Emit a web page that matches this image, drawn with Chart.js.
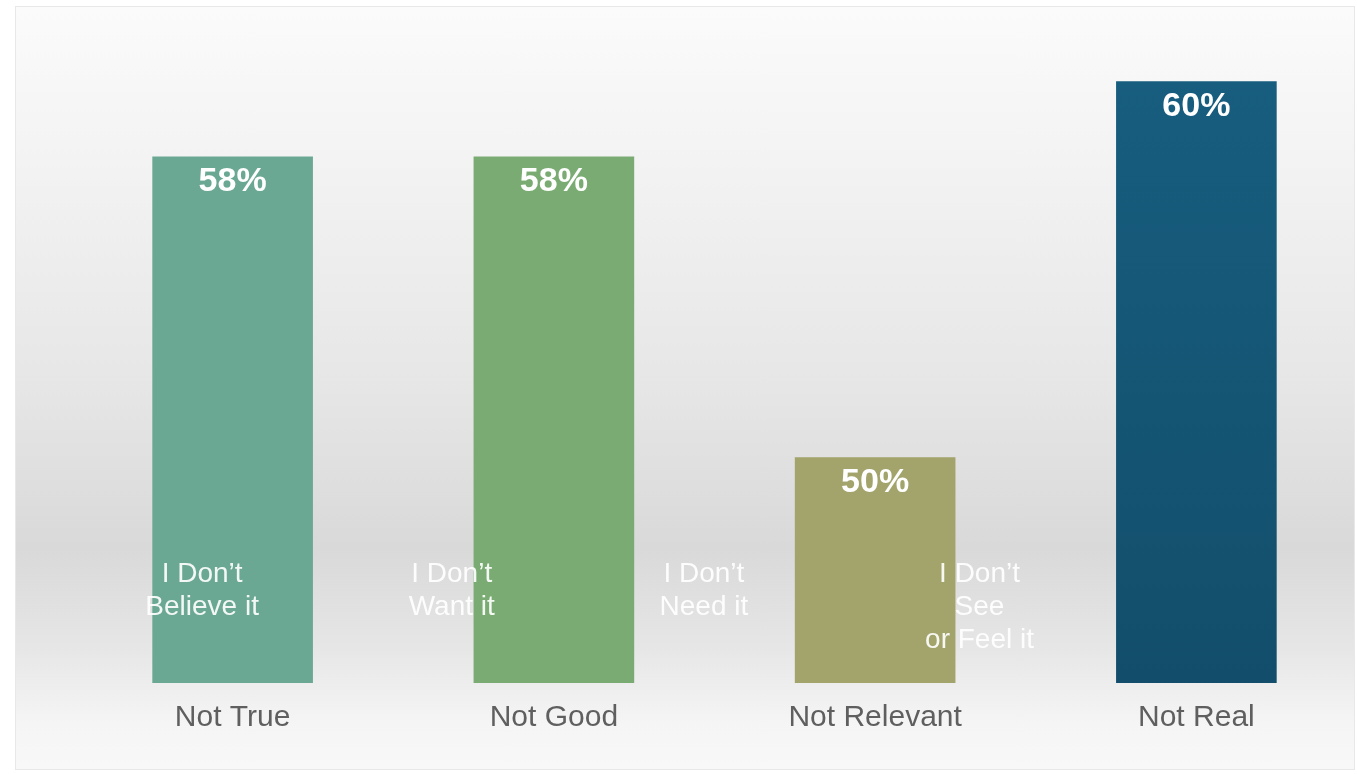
<!DOCTYPE html>
<html>
<head>
<meta charset="utf-8">
<script src="https://cdn.jsdelivr.net/npm/chart.js@4.4.1/dist/chart.umd.min.js"></script>
<style>
  html, body { margin: 0; padding: 0; background: #ffffff; overflow: hidden; }
  #frame {
    position: absolute; left: 15px; top: 6px; width: 1340px; height: 764px;
    box-sizing: border-box; border: 1px solid #e8e8e8;
    background: linear-gradient(to bottom, #fbfbfb 0%, #f3f3f3 20%, #e6e6e6 50%, #d9d9d9 71%, #e6e6e6 84%, #f5f5f5 94%, #f8f8f8 100%);
  }
  #wrap { position: absolute; left: 0; top: 0; width: 1357px; height: 774px; }
</style>
</head>
<body>
<div id="frame"></div>
<div id="wrap"><canvas id="c"></canvas></div>
<script>
const categories = ["Not True", "Not Good", "Not Relevant", "Not Real"];
const values = [58, 58, 50, 60];
const valueLabels = ["58%", "58%", "50%", "60%"];
const noteLines = [
  ["I Don\u2019t", "Believe it"],
  ["I Don\u2019t", "Want it"],
  ["I Don\u2019t", "Need it"],
  ["I Don\u2019t", "See", "or Feel it"]
];

// placement of the free-floating notes (category index + fraction of category width)
const notePlacement = [
  { idx: 0, dx: -0.095 },
  { idx: 1, dx: -0.318 },
  { idx: 2, dx: -0.533 },
  { idx: 3, dx: -0.675 }
];

const barColors = ["#6ba893", "#7aab73", "#a3a36c", null];

const labelsPlugin = {
  id: 'labelsPlugin',
  afterDatasetsDraw(chart) {
    const ctx = chart.ctx;
    const meta = chart.getDatasetMeta(0);
    ctx.save();
    ctx.fillStyle = '#ffffff';
    ctx.font = 'bold 34px "Liberation Sans", Arial, sans-serif';
    ctx.textAlign = 'center';
    ctx.textBaseline = 'alphabetic';
    meta.data.forEach((bar, i) => {
      ctx.fillText(valueLabels[i], bar.x, bar.y + 35);
    });
    // notes
    const xs = chart.scales.x;
    const catW = xs.width / categories.length;
    const bottom = chart.chartArea.bottom;
    ctx.font = '28px "Liberation Sans", Arial, sans-serif';
    ctx.fillStyle = 'rgba(255,255,255,0.92)';
    noteLines.forEach((lines, k) => {
      const p = notePlacement[k];
      const cx = xs.getPixelForValue(p.idx) + p.dx * catW;
      lines.forEach((ln, j) => {
        ctx.fillText(ln, cx, bottom - 101 + j * 33);
      });
    });
    ctx.restore();
  }
};

const ctxEl = document.getElementById('c');
new Chart(ctxEl, {
  type: 'bar',
  data: {
    labels: categories,
    datasets: [{
      data: values,
      backgroundColor: (c) => {
        const i = c.dataIndex;
        if (barColors[i]) return barColors[i];
        const area = c.chart.chartArea;
        if (!area) return '#145878';
        const g = c.chart.ctx.createLinearGradient(0, area.top, 0, area.bottom);
        g.addColorStop(0, '#185f81');
        g.addColorStop(1, '#124e6b');
        return g;
      },
      borderWidth: 0,
      barPercentage: 0.5,
      categoryPercentage: 1.0,
      base: 44
    }]
  },
  options: {
    responsive: true,
    maintainAspectRatio: false,
    animation: false,
    layout: { padding: { left: 72, right: 0, top: 6, bottom: 21 } },
    plugins: { legend: { display: false }, tooltip: { enabled: false } },
    scales: {
      x: {
        grid: { display: false, drawTicks: false },
        border: { display: false },
        ticks: {
          color: '#5f5f5f',
          font: { family: '"Liberation Sans", Arial, sans-serif', size: 30 },
          padding: 17
        }
      },
      y: {
        display: false,
        min: 44,
        max: 62
      }
    }
  },
  plugins: [labelsPlugin]
});
</script>
</body>
</html>
